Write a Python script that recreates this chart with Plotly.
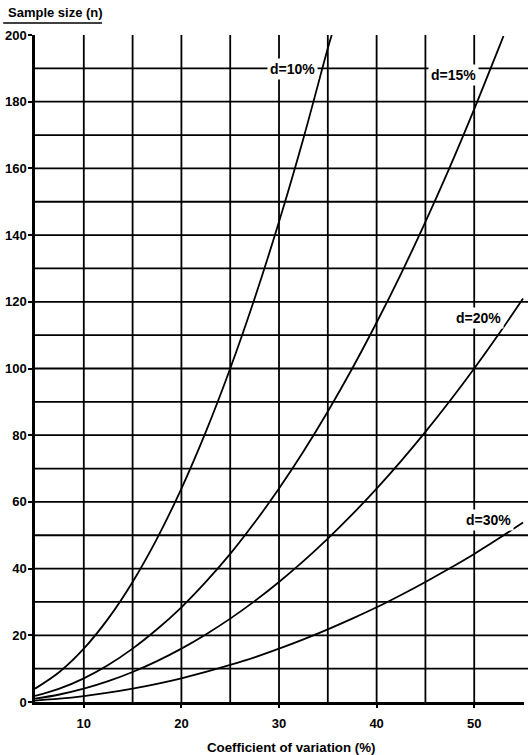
import plotly.graph_objects as go

cv_d10 = [5, 7.5, 10, 12.5, 15, 17.5, 20, 22.5, 25, 27.5, 30, 32.5, 35, 35.4]
n_d10 = [4, 9, 16, 25, 36, 49, 64, 81, 100, 121, 144, 169, 196, 200]

cv_d15 = [5, 7.5, 10, 12.5, 15, 17.5, 20, 22.5, 25, 27.5, 30, 32.5, 35, 37.5, 40, 42.5, 45, 47.5, 50, 52.5, 53]
n_d15 = [1.8, 4, 7.1, 11.1, 16, 21.8, 28.4, 36, 44.4, 53.8, 64, 75.1, 87.1, 100, 113.8, 128.4, 144, 160.4, 177.8, 196, 199.7]

cv_d20 = [5, 7.5, 10, 12.5, 15, 17.5, 20, 22.5, 25, 27.5, 30, 32.5, 35, 37.5, 40, 42.5, 45, 47.5, 50, 52.5, 55]
n_d20 = [1, 2.25, 4, 6.25, 9, 12.25, 16, 20.25, 25, 30.25, 36, 42.25, 49, 56.25, 64, 72.25, 81, 90.25, 100, 110.25, 121]

cv_d30 = [5, 7.5, 10, 12.5, 15, 17.5, 20, 22.5, 25, 27.5, 30, 32.5, 35, 37.5, 40, 42.5, 45, 47.5, 50, 52.5, 55]
n_d30 = [0.44, 1, 1.78, 2.78, 4, 5.44, 7.1, 9, 11.1, 13.4, 16, 18.8, 21.8, 25, 28.4, 32.1, 36, 40.1, 44.4, 49, 53.8]

series_labels = ["d=10%", "d=15%", "d=20%", "d=30%"]
label_x = [31.4, 47.9, 50.4, 51.5]
label_y = [189.8, 188, 115, 54.6]

x_ticks = [10, 20, 30, 40, 50]
x_grid = [10, 15, 20, 25, 30, 35, 40, 45, 50]
y_ticks = list(range(0, 201, 20))
y_grid = list(range(10, 200, 10))

FONT = "Liberation Sans"

fig = go.Figure()
for xs, ys in [(cv_d10, n_d10), (cv_d15, n_d15), (cv_d20, n_d20), (cv_d30, n_d30)]:
    fig.add_trace(go.Scatter(x=xs, y=ys, mode="lines",
                             line=dict(color="black", width=1.8, shape="spline"),
                             showlegend=False, hoverinfo="skip"))

shapes = []
for yv in y_grid:
    shapes.append(dict(type="line", xref="paper", yref="y", x0=0, x1=1.01, y0=yv, y1=yv,
                       line=dict(color="black", width=1.8), layer="below"))
for xv in x_grid:
    shapes.append(dict(type="line", xref="x", yref="paper", x0=xv, x1=xv, y0=0, y1=1.0,
                       line=dict(color="black", width=1.8), layer="below"))
# underline of y-axis title
shapes.append(dict(type="line", xref="paper", yref="paper", x0=-0.065, x1=0.137,
                   y0=1.018, y1=1.018, line=dict(color="black", width=1.5)))

annotations = []
for t, ax, ay in zip(series_labels, label_x, label_y):
    annotations.append(dict(x=ax, y=ay, xref="x", yref="y", text="<b>" + t + "</b>",
                            showarrow=False, bgcolor="white", borderpad=2,
                            font=dict(family=FONT, size=14, color="black")))
annotations.append(dict(x=-0.06, y=1.033, xref="paper", yref="paper",
                        text="<b>Sample size (n)</b>", showarrow=False,
                        xanchor="left", yanchor="middle",
                        font=dict(family=FONT, size=13, color="black")))
annotations.append(dict(x=0.5235, y=-0.0675, xref="paper", yref="paper",
                        text="<b>Coefficient of variation (%)</b>", showarrow=False,
                        xanchor="center", yanchor="middle",
                        font=dict(family=FONT, size=13.3, color="black")))

fig.update_layout(
    width=528, height=755,
    margin=dict(l=35, r=4, t=35, b=53),
    paper_bgcolor="white", plot_bgcolor="white",
    shapes=shapes, annotations=annotations,
    xaxis=dict(range=[5, 55.1], tickvals=x_ticks, ticktext=["<b>%d</b>" % v for v in x_ticks],
               showgrid=False, zeroline=False, showline=True, linecolor="black", linewidth=2.5,
               ticks="outside", ticklen=3, tickcolor="black", tickwidth=1.5,
               ticklabelstandoff=5,
               tickfont=dict(family=FONT, size=13, color="black")),
    yaxis=dict(range=[0, 200], tickvals=y_ticks, ticktext=["<b>%d</b>" % v for v in y_ticks],
               showgrid=False, zeroline=False, showline=True, linecolor="black", linewidth=2.5,
               ticks="outside", ticklen=4, tickcolor="black", tickwidth=1.5,
               ticklabelstandoff=-1,
               tickfont=dict(family=FONT, size=13, color="black")),
)

fig.write_html("out.html", config={"displayModeBar": False},
               post_script="document.body.style.margin='0px';")
